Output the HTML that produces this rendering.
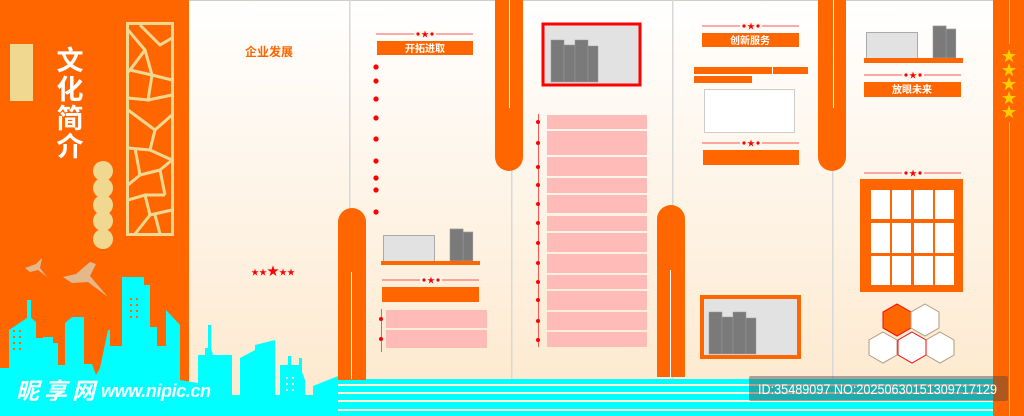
<!DOCTYPE html>
<html><head><meta charset="utf-8"><style>
html,body{margin:0;padding:0;width:1024px;height:416px;overflow:hidden;background:#fff}
svg{display:block}
text{font-family:"Liberation Sans","Noto Sans CJK SC",sans-serif}
</style></head><body>
<svg width="1024" height="416" viewBox="0 0 1024 416" xmlns="http://www.w3.org/2000/svg">
<defs>
<linearGradient id="bg" x1="0" y1="0" x2="0" y2="1">
<stop offset="0" stop-color="#ffffff"/><stop offset="1" stop-color="#fde8cc"/>
</linearGradient>
<g id="deco"><line x1="0" y1="0" x2="97" y2="0" stroke="#ff5555" stroke-width="1"/><rect x="38" y="-3" width="22" height="6" fill="#fdf6ea"/><circle cx="42" cy="0" r="1.6" fill="#f00"/><circle cx="56" cy="0" r="1.6" fill="#f00"/><text x="49" y="3" font-size="8" fill="#f00" text-anchor="middle">★</text></g>
<g id="books"><rect x="0" y="0" width="13" height="42" fill="#7a7a7a" stroke="#999" stroke-width="0.5"/><rect x="13" y="5" width="11" height="37" fill="#7a7a7a" stroke="#999" stroke-width="0.5"/><rect x="24" y="0" width="13" height="42" fill="#7a7a7a" stroke="#999" stroke-width="0.5"/><rect x="37" y="6" width="10" height="36" fill="#7a7a7a" stroke="#999" stroke-width="0.5"/></g>
</defs>
<rect width="1024" height="416" fill="url(#bg)"/>
<rect x="0" y="0" width="1024" height="1" fill="#ccc"/>
<g fill="#d8d8d8"><rect x="349" y="0" width="1.5" height="416"/><rect x="511" y="0" width="1.5" height="416"/><rect x="672" y="0" width="1.5" height="416"/><rect x="832" y="0" width="1.5" height="416"/></g>
<rect x="0" y="0" width="189" height="416" fill="#ff6600"/>
<rect x="10" y="44" width="23" height="57" fill="#f0d890"/>
<g font-size="27" font-weight="bold" fill="#fff" text-anchor="middle">
<text x="70" y="70">文</text><text x="70" y="99">化</text><text x="70" y="128">简</text><text x="70" y="156">介</text></g>
<g fill="#f0d890"><circle cx="103" cy="171" r="10"/><circle cx="103" cy="188" r="10"/><circle cx="103" cy="205" r="10"/><circle cx="103" cy="221" r="10"/><circle cx="103" cy="239" r="10"/></g>
<g stroke="#f0d890" stroke-width="3" fill="none">
<rect x="127.5" y="23.5" width="45" height="211"/>
<polyline points="128,30 145,50 130,70 128,72"/><polyline points="140,25 160,45 172,38"/><polyline points="145,50 152,75 172,80"/><polyline points="130,70 152,75 148,100 128,98"/><polyline points="148,100 172,95"/><polyline points="128,110 155,130 172,115"/><polyline points="155,130 150,150 128,148"/><polyline points="150,150 172,160"/><polyline points="135,148 140,175 128,185"/><polyline points="140,175 160,170 165,195"/><polyline points="160,170 172,160"/><polyline points="128,200 145,195 150,215 172,210"/><polyline points="145,195 165,195"/><polyline points="135,234 150,215"/><polyline points="160,234 155,215"/>
</g>
<g fill="#e3b98c"><path d="M25,268 L36,264 L42,258 L40,268 L47,277 L38,270 L30,272 Z"/><path d="M63,277 L76,274 L90,262 L96,264 L90,276 L108,297 L88,282 L72,283 Z"/></g>
<g fill="#00ffff">
<polygon points="0,416 0,368 9,368 9,330 27,318 27,300 31,300 31,318 36,322 36,338 43,338 43,337 53,337 53,343 58,343 58,365 65,365 65,323 72,317 84,317 84,364 92,364 96,375 100,368 108,330 110,330 110,346 122,346 122,277 144,277 144,285 150,285 150,327 157,327 157,346 166,346 166,310 180,325 180,380 198,383 198,355 205,355 205,348 208,348 208,325 211,325 211,348 213,355 232,355 232,395 240,395 240,358 255,350 255,345 275,340 275,395 280,395 280,365 288,365 288,356 291,356 291,365 299,365 299,358 302,358 302,372 305,380 305,395 313,395 313,386 338,376 338,416"/>
</g>
<g fill="#ff6600"><rect x="13" y="330" width="2" height="2"/><rect x="19" y="330" width="2" height="2"/><rect x="13" y="336" width="2" height="2"/><rect x="19" y="336" width="2" height="2"/><rect x="13" y="342" width="2" height="2"/><rect x="19" y="342" width="2" height="2"/><rect x="13" y="348" width="2" height="2"/><rect x="19" y="348" width="2" height="2"/><rect x="130" y="298" width="2" height="2"/><rect x="136" y="298" width="2" height="2"/><rect x="130" y="304" width="2" height="2"/><rect x="136" y="304" width="2" height="2"/><rect x="130" y="310" width="2" height="2"/><rect x="136" y="310" width="2" height="2"/><rect x="130" y="316" width="2" height="2"/><rect x="136" y="316" width="2" height="2"/></g>
<g fill="#fdf0dc"><rect x="286" y="377" width="2" height="2"/><rect x="292" y="377" width="2" height="2"/><rect x="286" y="383" width="2" height="2"/><rect x="292" y="383" width="2" height="2"/><rect x="286" y="389" width="2" height="2"/><rect x="292" y="389" width="2" height="2"/></g>
<text x="245" y="56" font-size="12" font-weight="bold" fill="#ff6600">企业发展</text>
<text x="251" y="275" font-size="8" fill="#f00">★★<tspan font-size="12">★</tspan>★★</text>
<rect x="338" y="379" width="655" height="37" fill="#00ffff"/>
<g fill="#fdf0d4"><rect x="338" y="384" width="655" height="2"/><rect x="338" y="392" width="655" height="2"/><rect x="338" y="400" width="655" height="2"/><rect x="338" y="409" width="655" height="2"/></g>
<g fill="#ff6600">
<path d="M338,380 L338,222 A14,14 0 0 1 366,222 L366,380 Z"/>
<path d="M495,0 L523,0 L523,157 A14,14 0 0 1 495,157 Z"/>
<path d="M657,377 L657,219 A14,14 0 0 1 685,219 L685,377 Z"/>
<path d="M818,0 L846,0 L846,157 A14,14 0 0 1 818,157 Z"/>
</g>
<g fill="#fff"><rect x="351" y="272" width="1" height="107"/><rect x="509" y="0" width="1" height="108"/><rect x="670" y="270" width="1" height="107"/><rect x="833" y="0" width="1" height="108"/></g>
<use href="#deco" x="376" y="34"/>
<rect x="377" y="41" width="96" height="14" fill="#ff6600"/>
<text x="425" y="52" font-size="10" font-weight="bold" fill="#fff" text-anchor="middle">开拓进取</text>
<g fill="#f00"><circle cx="376" cy="67" r="2.6"/><circle cx="376" cy="81" r="2.6"/><circle cx="376" cy="99" r="2.6"/><circle cx="376" cy="118" r="2.6"/><circle cx="376" cy="139" r="2.6"/><circle cx="376" cy="161" r="2.6"/><circle cx="376" cy="178" r="2.6"/><circle cx="376" cy="190" r="2.6"/><circle cx="376" cy="212" r="2.6"/></g>
<rect x="383.5" y="235.5" width="51" height="26" fill="#e2e2e2" stroke="#aaa"/>
<g transform="translate(450,229) scale(0.57,0.76)"><rect x="0" y="0" width="23" height="42" fill="#7a7a7a" stroke="#999"/><rect x="23" y="4" width="17" height="38" fill="#7a7a7a" stroke="#999"/></g>
<rect x="381" y="261" width="99" height="4" fill="#ff6600"/>
<use href="#deco" x="382" y="280"/>
<rect x="382" y="287" width="97" height="15" fill="#ff6600"/>
<rect x="381" y="309" width="1" height="43" fill="#ff5555"/>
<g fill="#ffbbb8"><rect x="386" y="310" width="101" height="18"/><rect x="386" y="330" width="101" height="18"/></g>
<g fill="#f00"><circle cx="381" cy="319" r="2"/><circle cx="381" cy="339" r="2"/></g>
<rect x="543" y="24" width="97" height="61" fill="#e2e2e2" stroke="#f00" stroke-width="3"/>
<use href="#books" x="551" y="40"/>
<rect x="538" y="114" width="1" height="233" fill="#ff5555"/>
<g fill="#ffbbb8"><rect x="547" y="115" width="100" height="14"/><rect x="547" y="131" width="100" height="24"/><rect x="547" y="157" width="100" height="19"/><rect x="547" y="178" width="100" height="15"/><rect x="547" y="195" width="100" height="18"/><rect x="547" y="216" width="100" height="15"/><rect x="547" y="233" width="100" height="19"/><rect x="547" y="254" width="100" height="19"/><rect x="547" y="275" width="100" height="14"/><rect x="547" y="291" width="100" height="19"/><rect x="547" y="312" width="100" height="18"/><rect x="547" y="332" width="100" height="15"/></g>
<g fill="#f00"><circle cx="538" cy="122" r="2"/><circle cx="538" cy="143" r="2"/><circle cx="538" cy="167" r="2"/><circle cx="538" cy="185" r="2"/><circle cx="538" cy="204" r="2"/><circle cx="538" cy="223" r="2"/><circle cx="538" cy="243" r="2"/><circle cx="538" cy="263" r="2"/><circle cx="538" cy="282" r="2"/><circle cx="538" cy="300" r="2"/><circle cx="538" cy="321" r="2"/><circle cx="538" cy="340" r="2"/></g>
<use href="#deco" x="702" y="26"/>
<rect x="702" y="33" width="97" height="14" fill="#ff6600"/>
<text x="750" y="44" font-size="10" font-weight="bold" fill="#fff" text-anchor="middle">创新服务</text>
<g fill="#ff6600"><rect x="694" y="67" width="78" height="7"/><rect x="773" y="67" width="35" height="7"/><rect x="694" y="76" width="58" height="7"/></g>
<rect x="704.5" y="89.5" width="90" height="43" fill="#fff" stroke="#ccc"/>
<use href="#deco" x="702" y="143"/>
<rect x="703" y="150" width="96" height="15" fill="#ff6600"/>
<rect x="702" y="297" width="97" height="60" fill="#e2e2e2" stroke="#ff6600" stroke-width="4"/>
<use href="#books" x="709" y="312"/>
<rect x="866.5" y="32.5" width="51" height="26" fill="#e2e2e2" stroke="#aaa"/>
<g transform="translate(933,26) scale(0.57,0.76)"><rect x="0" y="0" width="23" height="42" fill="#7a7a7a" stroke="#999"/><rect x="23" y="4" width="17" height="38" fill="#7a7a7a" stroke="#999"/></g>
<rect x="864" y="58" width="99" height="5" fill="#ff6600"/>
<use href="#deco" x="864" y="75"/>
<rect x="864" y="82" width="97" height="15" fill="#ff6600"/>
<text x="912" y="93" font-size="10" font-weight="bold" fill="#fff" text-anchor="middle">放眼未来</text>
<use href="#deco" x="864" y="173"/>
<rect x="860" y="179" width="103" height="113" fill="#ff6600"/>
<g fill="#fff">
<rect x="871" y="190" width="19" height="29"/><rect x="892" y="190" width="19" height="29"/><rect x="914" y="190" width="19" height="29"/><rect x="935" y="190" width="19" height="29"/>
<rect x="871" y="223" width="19" height="30"/><rect x="892" y="223" width="19" height="30"/><rect x="914" y="223" width="19" height="30"/><rect x="935" y="223" width="19" height="30"/>
<rect x="871" y="256" width="19" height="29"/><rect x="892" y="256" width="19" height="29"/><rect x="914" y="256" width="19" height="29"/><rect x="935" y="256" width="19" height="29"/></g>
<g stroke-width="1">
<polygon points="897,304 911,312 911,328 897,336 883,328 883,312" fill="#ff6600" stroke="#f00"/>
<polygon points="925,304 939,312 939,328 925,336 911,328 911,312" fill="#fff" stroke="#b09a78"/>
<polygon points="883,332 897,340 897,355 883,363 869,355 869,340" fill="#fff" stroke="#b09a78"/>
<polygon points="940,332 954,340 954,355 940,363 926,355 926,340" fill="#fff" stroke="#b09a78"/>
<polygon points="912,332 926,340 926,355 912,363 898,355 898,340" fill="#fff" stroke="#f00"/>
</g>
<rect x="993" y="0" width="31" height="416" fill="#ff6600"/>
<rect x="1009" y="0" width="1" height="44" fill="#f5c800"/><rect x="1009" y="122" width="1" height="294" fill="#f5c800"/>
<g font-size="15" fill="#ffcc00" text-anchor="middle"><text x="1009" y="61">★</text><text x="1009" y="75">★</text><text x="1009" y="89">★</text><text x="1009" y="103">★</text><text x="1009" y="117">★</text></g>
<text x="16" y="399" font-size="23" font-weight="bold" font-style="italic" fill="#fff" textLength="79">昵享网</text>
<text x="101" y="397" font-size="18" font-weight="bold" font-style="italic" fill="#fff" textLength="110">www.nipic.cn</text>
<rect x="749" y="376" width="259" height="25" rx="2" fill="rgba(70,70,70,0.45)"/>
<text x="758" y="394" font-size="14" fill="#fff" textLength="239" lengthAdjust="spacingAndGlyphs">ID:35489097 NO:20250630151309717129</text>
</svg>
</body></html>
